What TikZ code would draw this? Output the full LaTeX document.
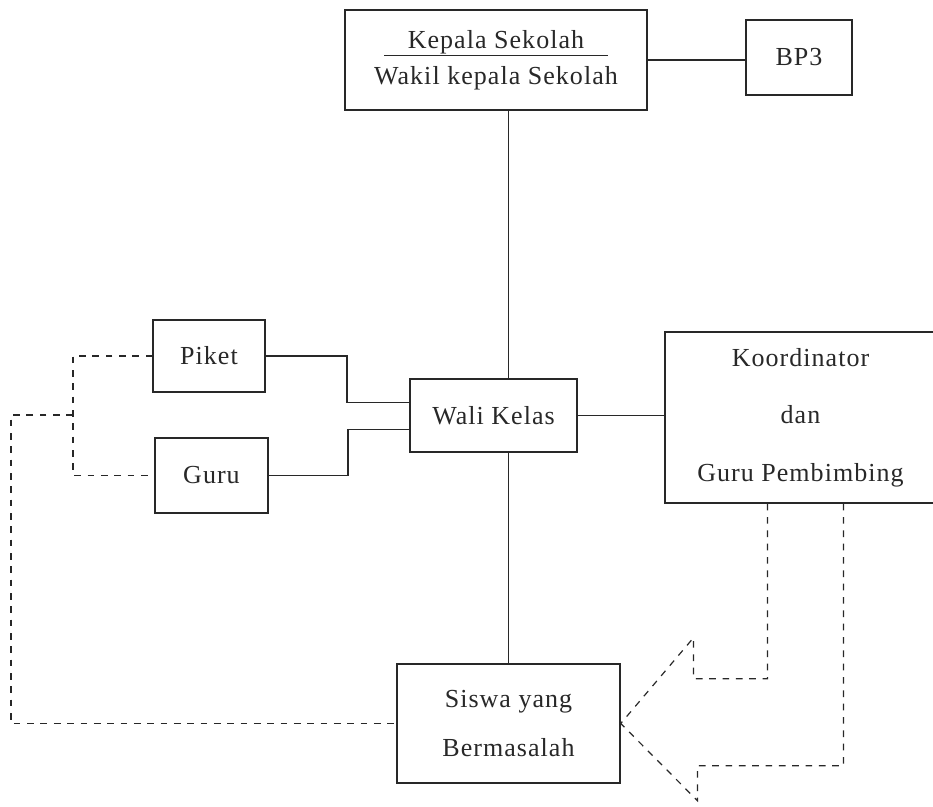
\documentclass[tikz,border=0pt]{standalone}
\usepackage{fontspec}
\setmainfont{Liberation Serif}[LetterSpace=4]
\usepackage{tikz}
\usetikzlibrary{calc}
\definecolor{tinta}{RGB}{40, 40, 40}

\begin{document}
\begin{tikzpicture}[x=0.75pt, y=-0.75pt,
  kotak/.style={draw=tinta, line width=1.1pt, inner sep=0pt, align=center,
    text=tinta, font=\fontsize{19.5}{23}\selectfont},
  garis/.style={draw=tinta, line width=1.2pt},
  garisputus/.style={draw=tinta, line width=0.9pt, dash pattern=on 5pt off 5pt}]
\useasboundingbox[fill=white] (0,0) rectangle (933,807);

% Pimpinan
\node[kotak, minimum width=226.5pt, minimum height=75pt] (kepsek) at (496,60)
  {\underline{\makebox[168pt]{Kepala Sekolah}}\\[4pt]Wakil kepala Sekolah};
\node[kotak, minimum width=79.5pt, minimum height=56.25pt] (bp3) at (799,57.5) {BP3};

% Tengah
\node[kotak, minimum width=125.25pt, minimum height=54.75pt] (wali) at (493.5,415.5) {Wali Kelas};
\node[kotak, minimum width=84pt, minimum height=54pt] (piket) at (209,356) {Piket};
\node[kotak, minimum width=84.75pt, minimum height=56.25pt] (guru) at (211.5,475.5) {Guru};
\node[kotak, minimum width=203.25pt, minimum height=128.25pt] (koord) at (800.5,417.5)
  {Koordinator\\[20pt]dan\\[20pt]Guru Pembimbing};

% Siswa
\node[kotak, minimum width=167.25pt, minimum height=89.25pt] (siswa) at (508.5,723.5)
  {Siswa yang\\[14pt]Bermasalah};

% garis komando
\draw[garis] (kepsek.east) -- (kepsek.east -| bp3.west);
\draw[garis] (kepsek.south -| siswa.north) -- (wali.north -| siswa.north);
\draw[garis] (wali.south -| siswa.north) -- (siswa.north);
\draw[garis] (wali.east) -- (wali.east -| koord.west);
\draw[garis] (piket.east) -- ++(81,0) |- ($(wali.west)+(0,-13)$);
\draw[garis] (guru.east) -- ++(79,0) |- ($(wali.west)+(0,14)$);

% garis koordinasi
\coordinate (cabang) at (73,415);
\draw[garisputus] (piket.west) -| (cabang) |- (guru.west);
\draw[garisputus] (cabang) -- ++(-62,0) |- (siswa.west);
\draw[garisputus] ($(koord.south)+(-33,0)$) -- ++(0,175) -- ++(-74,0) -- ++(0,-41) -- (siswa.east);
\draw[garisputus] ($(koord.south)+(43,0)$) -- ++(0,262) -- ++(-146,0) -- ++(0,35) -- (siswa.east);
\end{tikzpicture}
\end{document}
